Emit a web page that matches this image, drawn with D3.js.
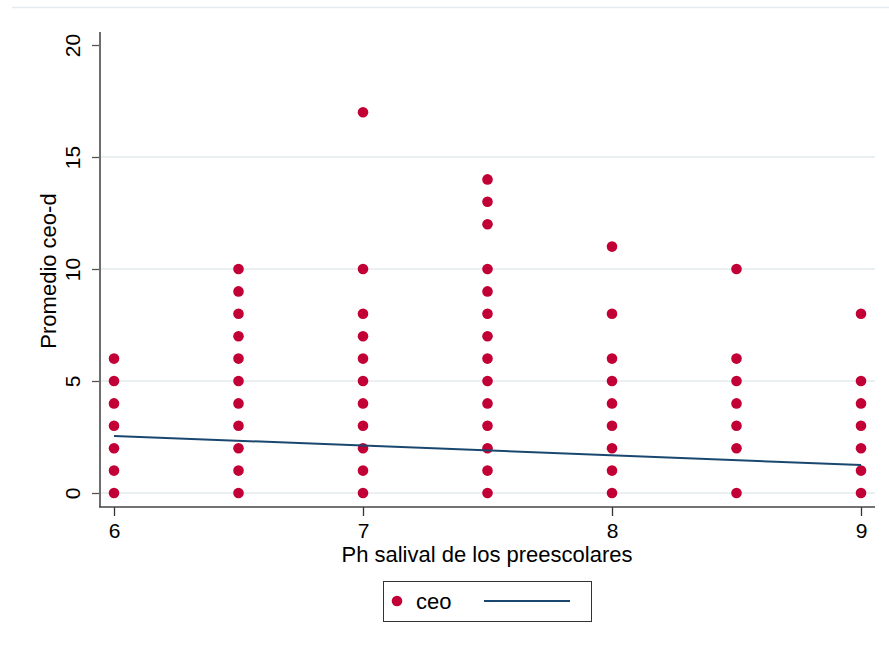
<!DOCTYPE html>
<html>
<head>
<meta charset="utf-8">
<script src="https://cdn.jsdelivr.net/npm/d3@7"></script>
<style>
  html, body { margin: 0; padding: 0; background: #fff; }
  svg { display: block; font-family: Arial, "Liberation Sans", sans-serif; }
</style>
</head>
<body>
<svg id="chart" width="889" height="646"></svg>
<script>
// pH values and the ceo-d averages observed at each one
const phLevels = [6, 6.5, 7, 7.5, 8, 8.5, 9];
const ceoAt6   = [0, 1, 2, 3, 4, 5, 6];
const ceoAt65  = [0, 1, 2, 3, 4, 5, 6, 7, 8, 9, 10];
const ceoAt7   = [0, 1, 2, 3, 4, 5, 6, 7, 8, 10, 17];
const ceoAt75  = [0, 1, 2, 3, 4, 5, 6, 7, 8, 9, 10, 12, 13, 14];
const ceoAt8   = [0, 1, 2, 3, 4, 5, 6, 8, 11];
const ceoAt85  = [0, 2, 3, 4, 5, 6, 10];
const ceoAt9   = [0, 1, 2, 3, 4, 5, 8];
const ceoByPh = [ceoAt6, ceoAt65, ceoAt7, ceoAt75, ceoAt8, ceoAt85, ceoAt9];

// fitted linear trend (endpoints)
const fitX = [6, 9];
const fitY = [2.55, 1.25];

const xTicks = [6, 7, 8, 9];
const yTicks = [0, 5, 10, 15, 20];
const gridTicks = [0, 5, 10, 15];

const xTitle = "Ph salival de los preescolares";
const yTitle = "Promedio ceo-d";
const legendLabel = "ceo";

const dotColor = "#c20035";
const lineColor = "#1a476f";

const svg = d3.select("#chart");

// outer graph region edge
svg.append("line")
  .attr("x1", 12).attr("x2", 889).attr("y1", 7.5).attr("y2", 7.5)
  .attr("stroke", "#e3ecee").attr("stroke-width", 1.5);

const x = d3.scaleLinear().domain([6, 9]).range([114, 861]);
const y = d3.scaleLinear().domain([0, 20]).range([493, 45]);

const plotLeft = 100, plotRight = 875, plotBottom = 507, plotTop = 32;

// horizontal grid
svg.append("g").selectAll("line").data(gridTicks).join("line")
  .attr("x1", plotLeft).attr("x2", plotRight)
  .attr("y1", d => y(d)).attr("y2", d => y(d))
  .attr("stroke", "#e8f0f2").attr("stroke-width", 2);

// y axis
const yAxis = svg.append("g").attr("transform", `translate(${plotLeft},0)`)
  .call(d3.axisLeft(y).tickValues(yTicks).tickSize(8).tickFormat(d3.format("d")));
yAxis.select(".domain").remove();
yAxis.selectAll(".tick line").attr("stroke", "#555").attr("stroke-width", 1.3);
yAxis.selectAll(".tick text")
  .attr("font-size", 21).attr("fill", "#000")
  .attr("text-anchor", "middle")
  .attr("transform", "rotate(-90)")
  .attr("x", 0).attr("y", -27).attr("dy", "0.35em");
svg.append("line")
  .attr("x1", plotLeft).attr("x2", plotLeft).attr("y1", plotTop).attr("y2", plotBottom)
  .attr("stroke", "#6e6e6e").attr("stroke-width", 2);

// x axis
const xAxis = svg.append("g").attr("transform", `translate(0,${plotBottom})`)
  .call(d3.axisBottom(x).tickValues(xTicks).tickSize(9).tickPadding(7).tickFormat(d3.format("d")));
xAxis.select(".domain").remove();
xAxis.selectAll(".tick line").attr("stroke", "#333").attr("stroke-width", 1.3);
xAxis.selectAll(".tick text").attr("font-size", 21).attr("fill", "#000");
svg.append("line")
  .attr("x1", plotLeft - 1).attr("x2", plotRight).attr("y1", plotBottom).attr("y2", plotBottom)
  .attr("stroke", "#444").attr("stroke-width", 1.5);

// axis titles
svg.append("text")
  .attr("x", 487).attr("y", 562)
  .attr("text-anchor", "middle").attr("font-size", 22).attr("fill", "#000")
  .text(xTitle);
svg.append("text")
  .attr("transform", "translate(56,271) rotate(-90)")
  .attr("text-anchor", "middle").attr("font-size", 22).attr("fill", "#000")
  .text(yTitle);

// scatter points
const points = phLevels.flatMap((ph, i) => ceoByPh[i].map(v => ({ ph, v })));
svg.append("g").selectAll("circle").data(points).join("circle")
  .attr("cx", d => x(d.ph)).attr("cy", d => y(d.v))
  .attr("r", 5.3).attr("fill", dotColor);

// fitted line
svg.append("path")
  .datum(fitX.map((v, i) => [v, fitY[i]]))
  .attr("d", d3.line().x(d => x(d[0])).y(d => y(d[1])))
  .attr("fill", "none").attr("stroke", lineColor).attr("stroke-width", 2);

// legend
const lg = svg.append("g");
lg.append("rect")
  .attr("x", 383.5).attr("y", 581.5).attr("width", 208).attr("height", 40)
  .attr("fill", "#fff").attr("stroke", "#333").attr("stroke-width", 1);
lg.append("circle").attr("cx", 397).attr("cy", 601).attr("r", 5.3).attr("fill", dotColor);
lg.append("text").attr("x", 416).attr("y", 609)
  .attr("font-size", 22).attr("fill", "#000").text(legendLabel);
lg.append("line").attr("x1", 484).attr("x2", 570).attr("y1", 601).attr("y2", 601)
  .attr("stroke", lineColor).attr("stroke-width", 2);
</script>
</body>
</html>
